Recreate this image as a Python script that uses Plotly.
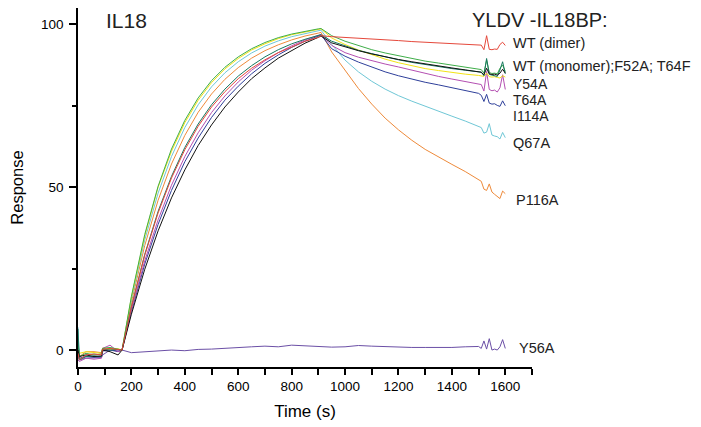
import plotly.graph_objects as go

# ---------------- data ----------------
TIME = [0, 5, 30, 60, 88, 92, 120, 150, 165,
        200, 250, 300, 350, 400, 450, 500, 550, 600, 650, 700, 750, 800, 850, 900, 910,
        950, 1000, 1050, 1100, 1150, 1200, 1250, 1300, 1350, 1400, 1450, 1500,
        1510, 1520, 1530, 1540, 1550, 1560, 1570, 1580, 1590, 1600]

WT_DIMER = [-1, -3, -1.5, -1.2, -1.5, 0.2, 0.5, 0.3, 0,
            13.2, 29.1, 42.1, 52.8, 61.5, 68.7, 74.6, 79.3, 83.3, 86.5, 89.1, 91.3, 93.0, 94.8, 96.0, 96.5,
            96.2, 96.0, 95.7, 95.5, 95.2, 95.0, 94.7, 94.5, 94.3, 94.2, 94.0, 93.8,
            93.6, 92.2, 96.5, 92.3, 92.2, 92.4, 92.3, 93.8, 94.5, 93.5]

WT_MONOMER = [2, -2, -1, -1.5, -1.2, 0.5, 0.8, 0.2, 0,
              16.5, 35.5, 50.3, 61.7, 70.5, 77.4, 82.7, 86.8, 90.0, 92.5, 94.4, 95.9, 97.0, 97.9, 98.6, 98.7,
              96.5, 94.8, 93.4, 92.2, 91.2, 90.3, 89.4, 88.7, 88.1, 87.5, 86.9, 86.3,
              86.1, 85.0, 89.0, 85.2, 84.9, 85.0, 84.8, 86.5, 87.5, 85.5]

F52A = [0, -2, -1.5, -2, -1.8, 0, -0.5, -1.5, 0,
        11.0, 24.8, 36.6, 46.7, 55.3, 62.8, 69.1, 74.6, 79.2, 83.3, 86.6, 89.6, 92.0, 94.2, 96.0, 96.4,
        94.3, 93.0, 91.9, 90.9, 90.0, 89.2, 88.5, 87.8, 87.2, 86.6, 86.0, 85.5,
        85.3, 84.5, 86.5, 84.8, 84.6, 84.7, 84.4, 85.0, 86.2, 85.0]

T64F = [6.5, -3, -2, -1.8, -2, 0.3, 0, 0.2, 0,
        13.3, 29.4, 42.6, 53.3, 62.2, 69.4, 75.3, 80.1, 84.1, 87.3, 90.0, 92.2, 94.0, 95.4, 96.6, 96.8,
        94.8, 93.3, 92.0, 91.0, 90.0, 89.1, 88.3, 87.6, 87.0, 86.4, 85.9, 85.5,
        85.3, 84.2, 89.5, 84.6, 84.4, 84.2, 84.0, 86.0, 88.5, 84.8]

Y54A = [1, -1, -0.5, -0.8, -1, 0.5, 0.2, 0.4, 0,
        16.2, 35.0, 50.0, 61.0, 69.8, 76.7, 82.1, 86.3, 89.5, 92.1, 94.0, 95.6, 96.8, 97.7, 98.4, 98.6,
        95.8, 93.8, 92.1, 90.6, 89.3, 88.2, 87.2, 86.4, 85.8, 85.2, 84.7, 84.3,
        84.2, 84.0, 85.0, 83.9, 83.8, 83.9, 83.7, 83.5, 84.2, 83.8]

T64A = [-3, -3.5, -2.5, -2.8, -2.5, 0.5, 1.5, -0.5, 0,
        12.3, 27.4, 40.0, 50.6, 59.4, 66.7, 72.9, 78.0, 82.3, 85.9, 88.8, 91.3, 93.4, 95.2, 96.6, 96.9,
        93.5, 91.3, 89.9, 88.8, 87.8, 86.9, 85.9, 84.9, 84.0, 83.2, 82.5, 81.8,
        81.5, 79.5, 85.5, 80.0, 79.6, 79.8, 79.2, 80.5, 84.5, 80.0]

I114A = [3, -2.5, -2, -2.2, -2, -0.3, 0, -0.3, 0,
         11.8, 26.4, 38.6, 49.0, 57.8, 65.1, 71.4, 76.7, 81.0, 84.8, 88.0, 90.6, 92.9, 94.8, 96.3, 96.7,
         92.5, 90.2, 88.4, 86.8, 85.4, 84.2, 83.1, 82.2, 81.4, 80.6, 79.7, 78.8,
         78.2, 76.3, 78.5, 75.8, 75.5, 75.6, 75.1, 74.8, 76.5, 75.0]

Q67A = [7, -3, -1.5, -1.2, -1.5, 0.2, 0.3, 0, 0,
        15.6, 33.8, 48.2, 59.4, 68.3, 75.3, 80.8, 85.1, 88.5, 91.2, 93.3, 94.9, 96.2, 97.2, 98.0, 98.2,
        93.8, 89.0, 85.4, 82.5, 80.1, 78.1, 76.4, 74.8, 73.3, 71.8, 70.3, 68.8,
        68.3, 66.6, 66.9, 69.5, 66.0, 65.7, 65.5, 64.8, 66.8, 65.2]

P116A = [1, -2, -0.5, -0.5, -0.8, 0.6, 0.5, 0.2, 0,
         14.7, 32.1, 46.0, 57.1, 65.9, 73.0, 78.6, 83.1, 86.7, 89.6, 91.9, 93.7, 95.2, 96.4, 97.3, 97.5,
         91.5, 85.7, 80.3, 75.5, 71.2, 67.6, 64.4, 61.6, 59.2, 57.0, 54.8, 52.5,
         51.8, 49.4, 49.0, 51.0, 48.5, 47.8, 47.2, 46.5, 48.8, 48.0]

Y56A = [-2, -3, -2.5, -2.5, -2.3, -1.5, 0, -0.5, 0,
        -0.8, -0.5, -0.3, 0.0, -0.2, 0.2, 0.3, 0.6, 0.8, 1.0, 1.2, 1.0, 1.5, 1.3, 1.0, 1.1,
        0.9, 1.0, 1.4, 1.2, 1.0, 0.9, 0.8, 0.8, 0.7, 0.8, 1.0, 1.1,
        0.5, 2.8, 0.3, 3.5, 0.0, 0.3, 0.0, 1.0, 3.2, 0.5]

X_TICKS = [0, 200, 400, 600, 800, 1000, 1200, 1400, 1600]
Y_TICKS = [0, 50, 100]

LABELS = ["WT (dimer)", "WT (monomer);F52A; T64F", "Y54A", "T64A", "I114A",
          "Q67A", "P116A", "Y56A"]

# ---------------- styling / layout ----------------
series = [
    (Y56A, "#6b4fa6"),
    (P116A, "#ee8a3a"),
    (Q67A, "#6fc7d6"),
    (I114A, "#2e3f9a"),
    (T64A, "#b44fb2"),
    (Y54A, "#f2e316"),
    (WT_MONOMER, "#3fae49"),
    (T64F, "#17785f"),
    (F52A, "#111111"),
    (WT_DIMER, "#e5483b"),
]
label_y = [94.4, 87.3, 81.6, 76.9, 71.8, 63.5, 46.2, 0.6]
label_x = [1625, 1625, 1625, 1625, 1625, 1625, 1635, 1646]
label_size = [14.5, 14.5, 14, 14, 14, 14.5, 14.5, 14.5]

FONT = "Liberation Sans, Arial, sans-serif"

fig = go.Figure()
for vals, col in series:
    fig.add_trace(go.Scatter(x=TIME, y=vals, mode="lines",
                             line=dict(color=col, width=1),
                             showlegend=False, hoverinfo="skip"))

annotations = []
for txt, lx, ly, fs in zip(LABELS, label_x, label_y, label_size):
    annotations.append(dict(x=lx, y=ly, xref="x", yref="y", text=txt,
                            showarrow=False, xanchor="left", yanchor="middle", borderpad=0,
                            font=dict(size=fs, color="#222222", family=FONT)))
annotations.append(dict(x=0.0595, y=0.966, xref="paper", yref="paper", text="IL18",
                        showarrow=False, xanchor="left", yanchor="middle", borderpad=0,
                        font=dict(size=21, color="#222222", family=FONT)))
annotations.append(dict(x=0.866, y=0.966, xref="paper", yref="paper", text="YLDV -IL18BP:",
                        showarrow=False, xanchor="left", yanchor="middle", borderpad=0,
                        font=dict(size=20, color="#222222", family=FONT)))

axis_common = dict(showline=True, linecolor="black", linewidth=1.5,
                   ticks="outside", tickcolor="black", tickwidth=1.5,
                   showgrid=False, zeroline=False,
                   tickfont=dict(size=13.5, color="black", family=FONT))

fig.update_layout(
    width=693, height=419,
    margin=dict(l=70, r=169, t=0, b=60),
    paper_bgcolor="white", plot_bgcolor="white",
    annotations=annotations,
    xaxis=dict(range=[0, 1700], tickvals=X_TICKS, ticklen=6,
               minor=dict(ticks="outside", dtick=100, ticklen=6, tickwidth=1.5, tickcolor="black"),
               title=dict(text="Time (s)", font=dict(size=17, color="black", family=FONT), standoff=12),
               **axis_common),
    yaxis=dict(range=[-5.2, 105], tickvals=Y_TICKS, ticklen=7, ticklabelstandoff=3,
               minor=dict(ticks="outside", dtick=25, ticklen=4, tickwidth=1.5, tickcolor="black"),
               title=dict(text="Response", font=dict(size=16.5, color="black", family=FONT), standoff=22),
               **axis_common),
)

fig.write_html("out.html")
